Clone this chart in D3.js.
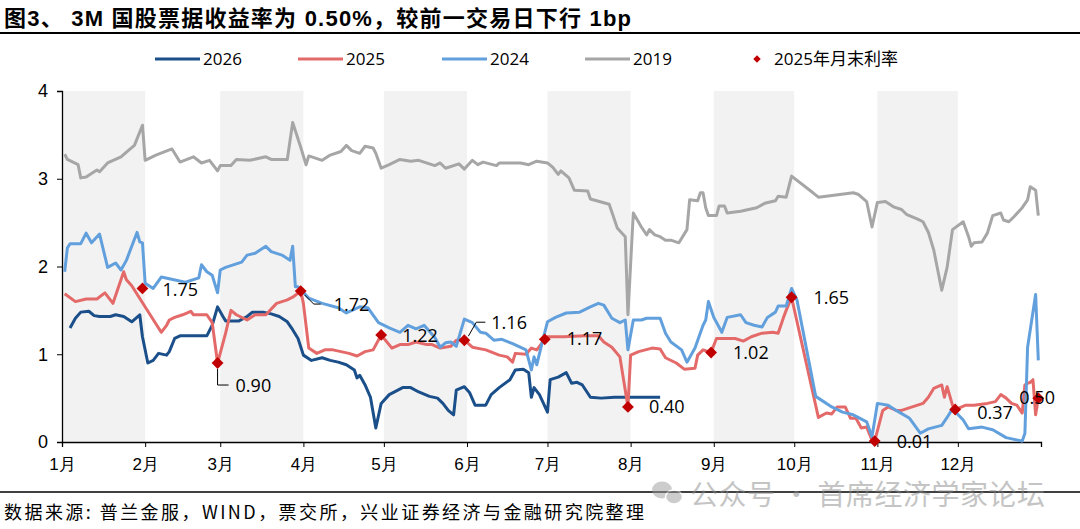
<!DOCTYPE html>
<html>
<head>
<meta charset="utf-8">
<script src="https://cdn.jsdelivr.net/npm/d3@7"></script>
<style>
  body { margin: 0; background: #fff; }
  svg { display: block; font-family: "Open Sans", "Noto Sans CJK SC", sans-serif; }
</style>
</head>
<body>
<svg id="chart" width="1080" height="529"></svg>
<script>
// month-day series, all plotted on the same calendar axis
const s2026 = [["01-04",1.30],["01-06",1.41],["01-08",1.48],["01-11",1.49],["01-13",1.44],["01-15",1.43],["01-19",1.43],
  ["01-21",1.45],["01-24",1.43],["01-27",1.37],["01-30",1.45],["01-31",1.20],["02-02",0.90],["02-04",0.93],["02-06",1.01],
  ["02-09",0.99],["02-10",1.03],["02-12",1.18],["02-14",1.21],["02-24",1.21],["02-26",1.33],["02-28",1.54],["03-02",1.43],
  ["03-03",1.38],["03-08",1.38],["03-11",1.43],["03-13",1.48],["03-17",1.48],["03-20",1.46],["03-23",1.43],["03-26",1.37],
  ["03-28",1.28],["03-30",1.18],["04-01",0.99],["04-04",0.93],["04-08",0.96],["04-11",0.93],["04-14",0.91],["04-17",0.88],
  ["04-20",0.82],["04-21",0.73],["04-22",0.76],["04-24",0.65],["04-26",0.51],["04-28",0.16],["04-30",0.44],["05-03",0.54],
  ["05-08",0.62],["05-11",0.62],["05-14",0.57],["05-18",0.52],["05-21",0.50],["05-23",0.44],["05-25",0.36],["05-27",0.31],
  ["05-28",0.59],["05-31",0.63],["06-02",0.56],["06-04",0.42],["06-08",0.42],["06-10",0.54],["06-13",0.62],["06-17",0.71],
  ["06-19",0.82],["06-22",0.83],["06-24",0.79],["06-25",0.51],["06-26",0.62],["06-28",0.54],["07-01",0.34],["07-02",0.71],
  ["07-05",0.74],["07-08",0.79],["07-10",0.67],["07-12",0.68],["07-14",0.65],["07-17",0.51],["07-21",0.50],["07-26",0.51],
  ["08-08",0.51],["08-12",0.51]];

const s2025 = [["01-02",1.69],["01-06",1.60],["01-10",1.63],["01-14",1.63],["01-17",1.70],["01-20",1.58],["01-24",1.94],
  ["01-25",1.85],["01-27",1.78],["02-07",1.25],["02-09",1.33],["02-10",1.39],["02-12",1.42],["02-15",1.45],["02-18",1.49],
  ["02-19",1.45],["02-24",1.45],["02-26",1.36],["02-28",0.90],["03-03",1.24],["03-05",1.50],["03-07",1.45],["03-11",1.39],
  ["03-14",1.45],["03-18",1.45],["03-22",1.58],["03-26",1.62],["03-28",1.65],["03-31",1.72],["04-01",1.58],["04-03",1.07],
  ["04-06",1.01],["04-09",1.05],["04-12",1.05],["04-18",1.01],["04-21",0.98],["04-24",1.03],["04-27",1.05],["04-30",1.22],
  ["05-04",1.07],["05-07",1.11],["05-10",1.11],["05-13",1.14],["05-17",1.11],["05-19",1.11],["05-22",1.07],["05-26",1.09],
  ["05-28",1.16],["05-31",1.16],["06-03",1.08],["06-08",1.05],["06-13",0.99],["06-16",0.97],["06-18",0.91],["06-19",1.01],
  ["06-23",1.00],["06-25",1.07],["06-27",1.05],["06-30",1.17],["07-01",1.20],["07-07",1.20],["07-15",1.21],["07-20",1.21],
  ["07-22",1.14],["07-25",1.08],["07-28",0.97],["07-31",0.40],["08-01",0.99],["08-04",1.03],["08-09",1.07],["08-12",1.06],
  ["08-14",0.96],["08-18",0.90],["08-21",0.83],["08-25",0.84],["08-26",0.99],["08-28",1.05],["08-31",1.02],["09-02",1.18],
  ["09-05",1.18],["09-09",1.18],["09-12",1.15],["09-15",1.20],["09-19",1.24],["09-23",1.25],["09-25",1.24],["09-27",1.42],
  ["09-28",1.50],["09-30",1.65],["10-10",0.28],["10-13",0.33],["10-15",0.32],["10-17",0.40],["10-20",0.40],["10-22",0.27],
  ["10-24",0.27],["10-26",0.16],["10-28",0.17],["10-30",0.02],["10-31",0.01],["11-03",0.36],["11-05",0.40],["11-08",0.36],
  ["11-10",0.36],["11-14",0.40],["11-18",0.44],["11-20",0.51],["11-22",0.61],["11-25",0.65],["11-26",0.51],["11-27",0.63],
  ["11-29",0.42],["11-30",0.37],["12-04",0.42],["12-07",0.42],["12-12",0.44],["12-15",0.46],["12-17",0.54],["12-19",0.50],
  ["12-21",0.44],["12-23",0.42],["12-25",0.33],["12-26",0.65],["12-27",0.67],["12-28",0.68],["12-29",0.71],["12-30",0.31],
  ["12-31",0.50]];

const s2024 = [["01-02",1.94],["01-03",2.21],["01-04",2.26],["01-08",2.26],["01-10",2.38],["01-12",2.27],["01-15",2.37],
  ["01-18",1.99],["01-21",2.04],["01-23",1.96],["01-25",2.07],["01-29",2.39],["01-30",2.28],["01-31",2.27],["02-01",1.81],
  ["02-04",1.75],["02-07",1.88],["02-16",1.82],["02-21",1.87],["02-22",2.02],["02-24",1.94],["02-26",1.90],["02-28",1.70],
  ["03-01",1.96],["03-03",1.99],["03-07",2.03],["03-09",2.05],["03-11",2.13],["03-14",2.15],["03-18",2.23],["03-20",2.17],
  ["03-24",2.13],["03-27",2.07],["03-28",2.23],["03-29",1.77],["03-30",1.77],["04-03",1.64],["04-08",1.58],["04-14",1.53],
  ["04-17",1.47],["04-22",1.54],["04-25",1.53],["04-29",1.36],["05-03",1.30],["05-07",1.25],["05-10",1.33],["05-13",1.29],
  ["05-16",1.33],["05-20",1.19],["05-22",1.08],["05-24",1.13],["05-26",1.14],["05-28",1.09],["05-31",1.40],["06-03",1.36],
  ["06-06",1.25],["06-08",1.24],["06-11",1.16],["06-14",1.17],["06-18",1.12],["06-23",1.05],["06-25",0.82],["06-26",0.97],
  ["06-27",0.88],["06-29",1.13],["07-01",1.37],["07-04",1.42],["07-08",1.47],["07-13",1.48],["07-17",1.54],["07-20",1.58],
  ["07-22",1.56],["07-25",1.41],["07-28",1.36],["07-30",1.39],["07-31",1.05],["08-02",1.39],["08-05",1.39],["08-07",1.41],
  ["08-09",1.41],["08-12",1.41],["08-14",1.24],["08-16",1.14],["08-20",1.05],["08-22",0.91],["08-25",1.07],["08-28",1.33],
  ["08-29",1.39],["08-30",1.60],["09-01",1.42],["09-04",1.25],["09-06",1.42],["09-11",1.45],["09-13",1.36],["09-16",1.33],
  ["09-19",1.31],["09-21",1.42],["09-24",1.48],["09-25",1.55],["09-28",1.55],["09-30",1.75],["10-02",1.62],["10-09",0.52],
  ["10-15",0.40],["10-19",0.34],["10-23",0.31],["10-28",0.23],["10-30",0.06],["11-01",0.44],["11-05",0.42],["11-08",0.36],
  ["11-13",0.27],["11-17",0.10],["11-20",0.15],["11-25",0.19],["11-27",0.28],["11-29",0.38],["12-03",0.25],["12-05",0.15],
  ["12-10",0.17],["12-14",0.14],["12-19",0.05],["12-25",0.01],["12-26",0.10],["12-27",1.08],["12-30",1.68],["12-31",0.93]];

const s2019 = [["01-02",3.28],["01-03",3.22],["01-07",3.16],["01-08",3.01],["01-10",3.02],["01-14",3.10],["01-15",3.08],
  ["01-18",3.18],["01-23",3.25],["01-26",3.33],["01-28",3.38],["01-31",3.61],["02-01",3.21],["02-05",3.27],["02-11",3.34],
  ["02-14",3.19],["02-19",3.25],["02-22",3.18],["02-25",3.21],["02-28",3.09],["03-01",3.15],["03-05",3.15],["03-07",3.22],
  ["03-12",3.21],["03-18",3.25],["03-20",3.22],["03-26",3.22],["03-28",3.64],["03-31",3.36],["04-02",3.16],["04-03",3.26],
  ["04-08",3.21],["04-11",3.27],["04-15",3.31],["04-17",3.38],["04-19",3.32],["04-22",3.29],["04-24",3.37],["04-27",3.35],
  ["04-28",3.29],["04-30",3.12],["05-03",3.16],["05-07",3.22],["05-11",3.20],["05-14",3.21],["05-20",3.15],["05-22",3.18],
  ["05-24",3.12],["05-29",3.17],["05-31",3.11],["06-03",3.21],["06-05",3.16],["06-07",3.19],["06-12",3.15],["06-13",3.18],
  ["06-21",3.18],["06-24",3.16],["06-27",3.20],["07-01",3.18],["07-03",3.13],["07-05",3.05],["07-06",3.09],["07-09",3.01],
  ["07-11",2.87],["07-16",2.86],["07-17",2.77],["07-24",2.71],["07-25",2.62],["07-27",2.44],["07-30",2.34],["07-31",1.45],
  ["08-02",2.61],["08-05",2.45],["08-07",2.36],["08-08",2.42],["08-10",2.36],["08-12",2.34],["08-14",2.30],["08-16",2.30],
  ["08-19",2.27],["08-22",2.42],["08-23",2.76],["08-26",2.75],["08-27",2.84],["08-28",2.84],["08-29",2.67],["08-30",2.58],
  ["09-02",2.58],["09-03",2.69],["09-05",2.69],["09-06",2.61],["09-11",2.63],["09-17",2.67],["09-20",2.72],["09-24",2.75],
  ["09-25",2.80],["09-28",2.79],["09-30",3.03],["10-08",2.84],["10-10",2.79],["10-18",2.82],["10-23",2.84],["10-25",2.82],
  ["10-28",2.74],["10-30",2.45],["11-01",2.73],["11-04",2.74],["11-07",2.68],["11-10",2.65],["11-12",2.59],["11-16",2.54],
  ["11-18",2.51],["11-20",2.39],["11-22",2.19],["11-25",1.73],["11-27",1.99],["11-29",2.42],["12-03",2.51],["12-05",2.34],
  ["12-06",2.23],["12-07",2.27],["12-10",2.28],["12-12",2.38],["12-14",2.58],["12-17",2.61],["12-18",2.53],["12-20",2.51],
  ["12-22",2.57],["12-25",2.67],["12-27",2.76],["12-28",2.91],["12-30",2.87],["12-31",2.58]];

// 2025 month-end rates
const monthEnd = [["01-31",1.75],["02-28",0.90],["03-31",1.72],["04-30",1.22],["05-31",1.16],["06-30",1.17],
  ["07-31",0.40],["08-31",1.02],["09-30",1.65],["10-31",0.01],["11-30",0.37],["12-31",0.50]];

const seriesNames = ["2026", "2025", "2024", "2019"];
const seriesColors = ["#1B4F8A", "#E46A6A", "#62A0DD", "#A6A6A6"];
const monthLabels = ["1月","2月","3月","4月","5月","6月","7月","8月","9月","10月","11月","12月"];
const yTicks = [0, 1, 2, 3, 4];

const parse = d3.timeParse("%m-%d");
const svg = d3.select("#chart");

const x = d3.scaleTime()
  .domain([new Date(1900, 0, 1), new Date(1901, 0, 1)])
  .range([62, 1041]);
const y = d3.scaleLinear().domain([0, 4]).range([442, 91]);

// title + rules
svg.append("text")
  .attr("x", 4).attr("y", 26)
  .attr("font-family", "'Liberation Sans', 'Noto Sans CJK SC', sans-serif")
  .attr("font-size", 22).attr("font-weight", "bold")
  .attr("textLength", 627).attr("lengthAdjust", "spacing")
  .text("图3、 3M 国股票据收益率为 0.50%，较前一交易日下行 1bp");
svg.append("line").attr("x1", 0).attr("x2", 1080).attr("y1", 33).attr("y2", 33)
  .attr("stroke", "#000").attr("stroke-width", 2);

// shaded odd months
let months = d3.timeMonth.range(new Date(1900, 0, 1), new Date(1901, 0, 1));
svg.append("g").selectAll("rect")
  .data(months.filter((m, i) => i % 2 === 0))
  .enter().append("rect")
  .attr("x", d => x(d))
  .attr("width", d => x(d3.timeMonth.offset(d, 1)) - x(d))
  .attr("y", y(4))
  .attr("height", y(0) - y(4))
  .attr("fill", "#F2F2F2");

// axes
let xAxis = d3.axisBottom(x)
  .tickValues(months.concat([new Date(1901, 0, 1)]))
  .tickSize(5)
  .tickFormat((d, i) => monthLabels[i] || "");
let gx = svg.append("g").attr("transform", "translate(0,442)").call(xAxis);
gx.selectAll("text").attr("font-size", 17).attr("dy", "1.2em").attr("fill", "#000");
gx.select(".domain").attr("stroke", "#000").attr("stroke-width", 1.3);
gx.selectAll(".tick line").attr("stroke", "#000");

let yAxis = d3.axisLeft(y).tickValues(yTicks).tickSize(5).tickFormat(d3.format("d"));
let gy = svg.append("g").attr("transform", "translate(62,0)").call(yAxis);
gy.selectAll("text").attr("font-size", 18).attr("x", -14).attr("fill", "#000");
gy.select(".domain").attr("stroke", "#000").attr("stroke-width", 1.3);
gy.selectAll(".tick line").attr("stroke", "#000");

// lines
let line = d3.line().x(d => x(parse(d[0]))).y(d => y(d[1]));
let allSeries = [s2026, s2025, s2024, s2019];
svg.append("g").selectAll("path")
  .data(allSeries)
  .enter().append("path")
  .attr("d", line)
  .attr("fill", "none")
  .attr("stroke", (d, i) => seriesColors[i])
  .attr("stroke-width", 3)
  .attr("stroke-linejoin", "round");

// month-end markers
let diamond = d3.symbol().type(d3.symbolSquare).size(70);
svg.append("g").selectAll("path")
  .data(monthEnd)
  .enter().append("path")
  .attr("d", diamond)
  .attr("transform", d => `translate(${x(parse(d[0]))},${y(d[1])}) rotate(45)`)
  .attr("fill", "#C00000");

// marker labels: [dx, dy] offsets from the marker, plus optional leader line
const labelOffsets = [[20, 1], [18, 22], [33, 13], [21, 1], [27, -18], [22, -1], [21, 0], [22, 0], [22, 0], [22, 0], [22, 3], [-19, -1]];
const leaders = {1: [[0, 6], [0, 22], [11, 22]], 2: [[4, 4], [13, 13], [20, 13]], 4: [[4, -4], [12, -18], [21, -18]]};
let lab = svg.append("g");
monthEnd.forEach((d, i) => {
  let px = x(parse(d[0])), py = y(d[1]);
  if (leaders[i]) {
    lab.append("path")
      .attr("d", d3.line()(leaders[i].map(p => [px + p[0], py + p[1]])))
      .attr("fill", "none").attr("stroke", "#000").attr("stroke-width", 1);
  }
  lab.append("text")
    .attr("x", px + labelOffsets[i][0])
    .attr("y", py + labelOffsets[i][1])
    .attr("dy", "0.36em")
    .attr("font-size", 18)
    .text(d3.format(".2f")(d[1]));
});

// legend
let legend = svg.append("g").attr("transform", "translate(0,59)");
const legendX = [155, 298, 442, 585];
seriesNames.forEach((n, i) => {
  legend.append("line").attr("x1", legendX[i]).attr("x2", legendX[i] + 45)
    .attr("stroke", seriesColors[i]).attr("stroke-width", 3);
  legend.append("text").attr("x", legendX[i] + 48).attr("dy", "0.36em")
    .attr("font-size", 17).text(n);
});
legend.append("path").attr("d", d3.symbol().type(d3.symbolSquare).size(28))
  .attr("transform", "translate(757,0) rotate(45)").attr("fill", "#C00000");
legend.append("text").attr("x", 774).attr("dy", "0.36em").attr("font-size", 17).text("2025年月末利率");

// footer
svg.append("line").attr("x1", 0).attr("x2", 1080).attr("y1", 492).attr("y2", 492)
  .attr("stroke", "#000").attr("stroke-width", 1.5);
svg.append("text").attr("x", 4).attr("y", 519).attr("font-size", 18)
  .attr("font-family", "'Noto Sans CJK SC', sans-serif")
  .attr("textLength", 640).attr("lengthAdjust", "spacing")
  .text("数据来源: 普兰金服，WIND，票交所，兴业证券经济与金融研究院整理");

// watermark
let wm = svg.append("g").attr("opacity", 0.5);
wm.append("ellipse").attr("cx", 662).attr("cy", 490).attr("rx", 10).attr("ry", 8.5).attr("fill", "#9a9a9a");
wm.append("ellipse").attr("cx", 674).attr("cy", 497).attr("rx", 8.5).attr("ry", 7).attr("fill", "#9a9a9a").attr("stroke", "#fff").attr("stroke-width", 1.5);
wm.append("text").attr("x", 690).attr("y", 505).attr("font-size", 28).attr("fill", "#8a8a8a")
  .attr("font-family", "'Noto Sans CJK SC', sans-serif")
  .attr("textLength", 355).attr("lengthAdjust", "spacing")
  .text("公众号 · 首席经济学家论坛");
</script>
</body>
</html>
